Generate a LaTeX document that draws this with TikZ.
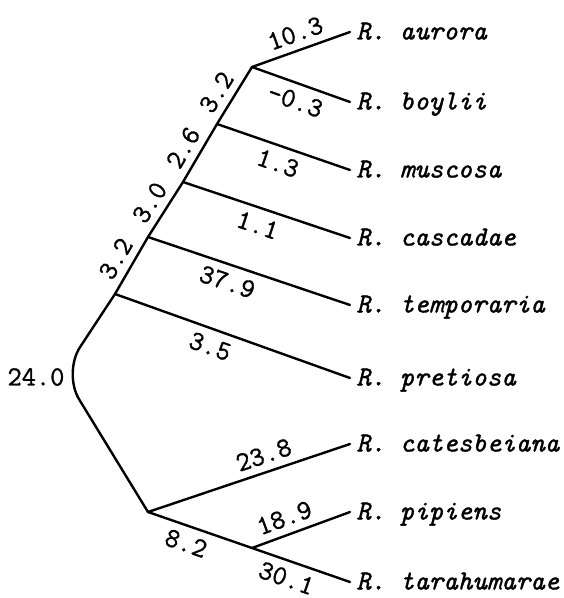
\documentclass[tikz,border=0pt]{standalone}
\usepackage{fontspec}
\setmonofont{Latin Modern Mono}[FakeBold=1.2]
\usetikzlibrary{positioning}

\begin{document}
\begin{tikzpicture}[
    x=0.5pt, y=-0.5pt,
    branch/.style={line width=1.2pt, line cap=round, line join=round},
    leaf/.style={anchor=west, inner xsep=3pt, inner ysep=0pt, text height=0.85em, text depth=0.1em,
                 font=\fontsize{13.8}{16}\selectfont\ttfamily\itshape},
    len/.style={sloped, inner sep=3.6pt, font=\fontsize{13.8}{16}\selectfont\ttfamily}
]
\useasboundingbox (0,0) rectangle (563,598);

% Junctions
\coordinate (A) at (252,67);
\coordinate (B) at (217,124);
\coordinate (C) at (183,182);
\coordinate (D) at (148,237);
\coordinate (E) at (115,294);
\coordinate (V) at (63,373);
\coordinate (F) at (148,512);
\coordinate (G) at (252,548);

% Species
\node[leaf] (aurora) at (350,32) {R. aurora};
\node[leaf] (boylii) at (350,102) {R. boylii};
\node[leaf] (muscosa) at (350,170) {R. muscosa};
\node[leaf] (cascadae) at (350,238) {R. cascadae};
\node[leaf] (temporaria) at (350,305) {R. temporaria};
\node[leaf] (pretiosa) at (350,378) {R. pretiosa};
\node[leaf] (catesbeiana) at (350,444) {R. catesbeiana};
\node[leaf] (pipiens) at (350,512) {R. pipiens};
\node[leaf] (tarahumarae) at (350,582) {R. tarahumarae};

% Backbone
\draw[branch] (E) -- node[len, above, pos=0.47] {3.2} (D)
    -- node[len, above, pos=0.46] {3.0} (C)
    -- node[len, above, pos=0.44] {2.6} (B)
    -- node[len, above, pos=0.4] {3.2} (A);
\draw[branch, rounded corners=15.5pt] (E) -- (V) -- (F);
\node[len, sloped=false, anchor=east] (root) at (72,377) {24.0};

% Branches
\draw[branch] (A) -- (aurora.west) node[len, midway, above] {10.3};
\draw[branch] (A) -- (boylii.west) node[len, midway, below] {-0.3};
\draw[branch] (B) -- (muscosa.west) node[len, midway, below] {1.3};
\draw[branch] (C) -- (cascadae.west) node[len, pos=0.48, below] {1.1};
\draw[branch] (D) -- (temporaria.west) node[len, pos=0.42, below] {37.9};
\draw[branch] (E) -- (pretiosa.west) node[len, pos=0.43, below] {3.5};
\draw[branch] (F) -- (catesbeiana.west) node[len, pos=0.6, above] {23.8};
\draw[branch] (F) -- (G) node[len, pos=0.42, below] {8.2};
\draw[branch] (G) -- (pipiens.west) node[len, pos=0.39, above] {18.9};
\draw[branch] (G) -- (tarahumarae.west) node[len, pos=0.41, below] {30.1};

\end{tikzpicture}
\end{document}
